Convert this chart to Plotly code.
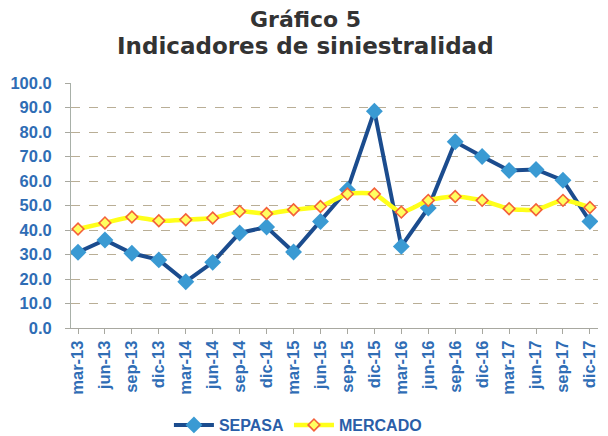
import plotly.graph_objects as go

categories = ["mar-13", "jun-13", "sep-13", "dic-13", "mar-14", "jun-14", "sep-14", "dic-14",
              "mar-15", "jun-15", "sep-15", "dic-15", "mar-16", "jun-16", "sep-16", "dic-16",
              "mar-17", "jun-17", "sep-17", "dic-17"]
sepasa = [30.9, 35.9, 30.5, 27.8, 18.9, 26.8, 38.8, 41.2, 31.0, 43.5, 56.4, 88.5,
          33.3, 49.0, 76.0, 70.0, 64.3, 64.7, 60.3, 43.5]
mercado = [40.4, 42.9, 45.3, 43.8, 44.2, 44.9, 47.6, 46.7, 48.3, 49.6, 54.7, 54.7,
           47.3, 52.1, 53.7, 52.1, 48.7, 48.3, 52.1, 49.2]
y_ticks = [0, 10, 20, 30, 40, 50, 60, 70, 80, 90, 100]
y_labels = [f"{v:.1f}" for v in y_ticks]
title_lines = ["Gráfico 5", "Indicadores de siniestralidad"]

FONT = "Arial, Liberation Sans, sans-serif"
TFONT = "DejaVu Sans, Arial, sans-serif"
BLUE_TXT = "#2f6db5"

x = list(range(len(categories)))
fig = go.Figure()
fig.add_trace(go.Scatter(
    x=x, y=sepasa, name="SEPASA", mode="lines+markers",
    line=dict(color="#1b4c8e", width=4),
    marker=dict(symbol="diamond", size=13, color="#3a9ad3", line=dict(width=0)),
))
fig.add_trace(go.Scatter(
    x=x, y=mercado, name="MERCADO", mode="lines+markers",
    line=dict(color="#ffff1a", width=4.5, shape="spline", smoothing=0.6),
    marker=dict(symbol="diamond", size=9, color="#ffff60", line=dict(width=1.6, color="#f4603a")),
))

H_PLOT = 436 - 83 - 108
for txt, ypx, fs in zip(title_lines, [19, 46], [22, 23]):
    fig.add_annotation(
        text=f"<b>{txt}</b>", xref="paper", yref="paper",
        x=(305 - 71) / (608 - 71 - 10), y=(328 - ypx) / H_PLOT,
        xanchor="center", yanchor="middle", showarrow=False,
        font=dict(family=TFONT, size=fs, color="#333333"),
    )

fig.update_layout(
    width=608, height=436,
    margin=dict(l=71, r=10, t=83, b=108, autoexpand=False),
    paper_bgcolor="white", plot_bgcolor="white",
    font=dict(family=FONT, color=BLUE_TXT),
    showlegend=True,
    legend=dict(orientation="h", x=0.49, xanchor="center", xref="container",
                y=1 - 425 / 436, yanchor="middle", yref="container",
                font=dict(family=FONT, size=16, color="#2a5ea8", weight="bold"),
                itemwidth=40, traceorder="normal"),
    xaxis=dict(
        tickmode="array", tickvals=x, ticktext=[f"<b>{c}</b>" for c in categories],
        tickangle=-90, tickfont=dict(size=16.5, color=BLUE_TXT),
        range=[-0.26, 19.3], showgrid=False, zeroline=False, automargin=False,
        showline=True, linecolor="#a8a8a0", linewidth=1,
        ticks="outside", ticklen=5, tickcolor="#a8a8a0",
    ),
    yaxis=dict(
        tickmode="array", tickvals=y_ticks, ticktext=[f"<b>{t}</b>" for t in y_labels],
        tickfont=dict(size=16.5, color=BLUE_TXT), automargin=False,
        range=[0, 100], showgrid=True, gridcolor="#b9ae96", griddash="dash", gridwidth=1,
        zeroline=False, showline=True, linecolor="#a8b0a8", linewidth=1,
        ticks="outside", ticklen=5, tickcolor="#a8a8a0", ticklabelstandoff=10,
    ),
)

fig.write_html("out.html", config={"displayModeBar": False},
               post_script="document.body.style.margin='0';")
